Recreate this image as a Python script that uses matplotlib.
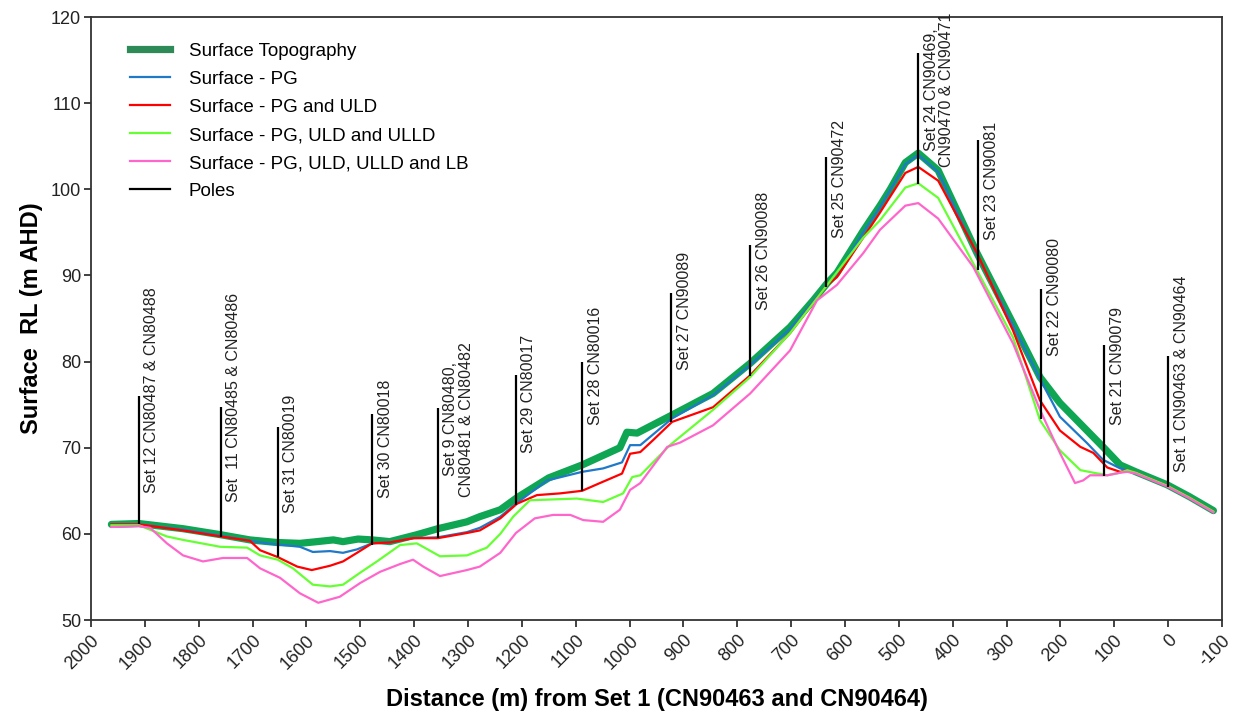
import matplotlib.pyplot as plt
from matplotlib.lines import Line2D

plt.rcParams['font.family'] = ['Liberation Sans', 'DejaVu Sans']

# distance (m) from Set 1 and surface RL (m AHD) for each surface
topo_d = [1962, 1911, 1829, 1759, 1705, 1655, 1612, 1580, 1550, 1532, 1504, 1478, 1445, 1395, 1356,
          1302, 1278, 1240, 1209, 1150, 1088, 1018, 1005, 986, 921, 845, 776, 702, 659, 633, 615,
          566, 535, 516, 488, 464, 427, 355, 288, 238, 201, 121, 89, 60, 2, -40, -84]
topo_rl = [61.1, 61.2, 60.6, 59.9, 59.3, 59.0, 58.9, 59.1, 59.3, 59.1, 59.4, 59.3, 59.1, 59.9, 60.6,
           61.4, 62.0, 62.8, 64.2, 66.5, 68.0, 70.0, 71.8, 71.7, 73.8, 76.3, 79.8, 84.0, 87.1, 89.1, 90.3,
           95.2, 98.1, 100.0, 103.1, 104.2, 102.2, 92.6, 84.4, 78.2, 75.2, 70.1, 68.0, 67.2, 65.7, 64.3, 62.7]

pg_d = [1962, 1911, 1829, 1759, 1705, 1673, 1612, 1588, 1556, 1532, 1506, 1478, 1445, 1402, 1356,
        1302, 1278, 1240, 1209, 1153, 1088, 1049, 1014, 999, 980, 921, 845, 776, 702, 633, 615,
        566, 535, 488, 464, 427, 355, 288, 238, 201, 150, 121, 89, 60, 2, -40, -84]
pg_rl = [61.1, 61.1, 60.5, 59.8, 59.2, 58.9, 58.5, 57.9, 58.0, 57.8, 58.2, 58.9, 59.0, 59.5, 59.6,
         60.2, 60.7, 62.0, 63.6, 66.2, 67.2, 67.6, 68.3, 70.3, 70.3, 73.4, 76.1, 79.6, 83.8, 88.9, 90.1,
         95.0, 97.9, 102.9, 104.0, 102.0, 92.4, 84.2, 78.0, 73.6, 70.5, 68.6, 67.6, 67.1, 65.6, 64.2, 62.6]

uld_d = [1962, 1911, 1829, 1759, 1705, 1686, 1653, 1617, 1590, 1556, 1532, 1506, 1478, 1445, 1402,
         1356, 1302, 1278, 1240, 1209, 1172, 1129, 1088, 1055, 1014, 999, 980, 956, 921, 845, 776,
         702, 633, 615, 566, 535, 488, 464, 427, 355, 288, 238, 201, 163, 139, 113, 89, 76, 60, 2, -40, -84]
uld_rl = [61.1, 61.1, 60.4, 59.7, 59.2, 58.1, 57.3, 56.2, 55.8, 56.3, 56.8, 57.8, 58.9, 59.0, 59.5,
          59.5, 60.1, 60.4, 61.8, 63.5, 64.5, 64.7, 65.0, 65.9, 67.0, 69.3, 69.5, 70.9, 73.0, 74.7, 78.4,
          83.3, 88.9, 89.8, 94.4, 97.3, 101.9, 102.6, 101.0, 92.6, 83.6, 75.5, 72.0, 70.1, 69.4, 67.7, 67.2,
          67.4, 67.1, 65.6, 64.2, 62.6]

ulld_d = [1962, 1911, 1859, 1829, 1760, 1710, 1686, 1653, 1625, 1588, 1556, 1532, 1500, 1469, 1426,
          1395, 1352, 1302, 1265, 1240, 1216, 1185, 1098, 1049, 1012, 995, 980, 925, 845, 776, 702,
          633, 566, 535, 488, 464, 427, 355, 288, 238, 201, 163, 139, 113, 89, 76, 60, 2, -40, -84]
ulld_rl = [61.0, 61.0, 59.7, 59.3, 58.5, 58.4, 57.5, 57.0, 56.0, 54.1, 53.9, 54.1, 55.5, 56.8, 58.7,
           58.9, 57.4, 57.5, 58.4, 60.0, 62.0, 63.9, 64.1, 63.7, 64.7, 66.6, 66.8, 70.3, 74.4, 78.2, 83.3,
           88.9, 94.4, 96.4, 100.2, 100.7, 99.0, 90.6, 82.8, 73.2, 69.7, 67.4, 67.1, 66.8, 67.1, 67.4, 67.1,
           65.6, 64.2, 62.6]

lb_d = [1962, 1911, 1890, 1859, 1829, 1792, 1755, 1710, 1686, 1649, 1612, 1578, 1538, 1500, 1463,
        1426, 1402, 1383, 1352, 1302, 1278, 1240, 1211, 1176, 1142, 1110, 1086, 1049, 1018, 999, 980,
        930, 906, 845, 776, 702, 652, 615, 566, 535, 488, 464, 427, 362, 288, 238, 201, 173, 158, 145,
        113, 89, 76, 60, 2, -40, -84]
lb_rl = [60.8, 60.9, 60.7, 58.9, 57.5, 56.8, 57.2, 57.2, 56.0, 54.9, 53.1, 52.0, 52.7, 54.3, 55.6,
         56.5, 57.0, 56.2, 55.1, 55.8, 56.2, 57.8, 60.1, 61.8, 62.2, 62.2, 61.6, 61.4, 62.8, 65.1, 65.9,
         70.1, 70.6, 72.6, 76.3, 81.3, 87.1, 88.9, 92.6, 95.3, 98.1, 98.4, 96.6, 91.0, 82.1, 74.4, 69.4,
         65.9, 66.2, 66.8, 66.8, 67.1, 67.2, 67.0, 65.5, 64.1, 62.5]

# poles
pole_d = [1911, 1759, 1653, 1478, 1356, 1211, 1088, 923, 776, 635, 464, 353, 236, 119, 0]
pole_bottom = [61.1, 59.6, 57.3, 58.7, 59.5, 63.3, 65.0, 73.0, 78.3, 88.7, 100.6, 90.6, 73.3, 66.7, 65.4]
pole_top = [76.0, 74.7, 72.4, 73.9, 74.6, 78.4, 80.0, 88.0, 93.5, 103.8, 115.8, 105.7, 88.4, 81.9, 80.6]
pole_names = ['Set 12 CN80487 & CN80488', 'Set  11 CN80485 & CN80486', 'Set 31 CN80019',
              'Set 30 CN80018', 'Set 9 CN80480,\nCN80481 & CN80482', 'Set 29 CN80017',
              'Set 28 CN80016', 'Set 27 CN90089', 'Set 26 CN90088', 'Set 25 CN90472',
              'Set 24 CN90469,\nCN90470 & CN90471', 'Set 23 CN90081', 'Set 22 CN90080',
              'Set 21 CN90079', 'Set 1 CN90463 & CN90464']
label_rl = [64.7, 63.7, 62.4, 64.2, 64.3, 69.4, 72.6, 79.0, 86.0, 94.3, 102.6, 94.1, 80.7, 72.6, 67.2]

xticks = list(range(2000, -101, -100))
xtick_labels = [str(t) for t in xticks]
yticks = [50, 60, 70, 80, 90, 100, 110, 120]

fig = plt.figure(figsize=(12.39, 7.12), dpi=100)
ax = fig.add_axes([0.0734, 0.1292, 0.9129, 0.8469])

ax.plot(topo_d, topo_rl, color='#0ea653', lw=5.2, solid_capstyle='round', label='Surface Topography')
ax.plot(pg_d, pg_rl, color='#1f78c8', lw=1.6, label='Surface - PG')
ax.plot(uld_d, uld_rl, color='#ff0000', lw=1.6, label='Surface - PG and ULD')
ax.plot(ulld_d, ulld_rl, color='#66ff33', lw=1.6, label='Surface - PG, ULD and ULLD')
ax.plot(lb_d, lb_rl, color='#ff66cc', lw=1.6, label='Surface - PG, ULD, ULLD and LB')

ax.vlines(pole_d, pole_bottom, pole_top, color='black', lw=1.6, zorder=5)
for d, name, y in zip(pole_d, pole_names, label_rl):
    ax.annotate(name, xy=(d, y), xytext=(4, 0), textcoords='offset points',
                rotation=90, ha='left', va='bottom', multialignment='center',
                fontsize=11.5, color='#222222', linespacing=1.05)

handles, labels = ax.get_legend_handles_labels()
handles[0] = Line2D([], [], color='#2e8b57', lw=5.2)
handles.append(Line2D([], [], color='black', lw=1.6))
labels.append('Poles')
ax.legend(handles, labels, loc='upper left', bbox_to_anchor=(0.02, 0.985), frameon=False,
          fontsize=13.5, handlelength=2.1, handletextpad=1.0, labelspacing=0.58)

ax.set_xlim(2000, -100)
ax.set_ylim(50, 120)
ax.set_xticks(xticks)
ax.set_xticklabels(xtick_labels, rotation=45, ha='right', va='top', rotation_mode='anchor')
ax.set_yticks(yticks)
ax.tick_params(axis='both', labelsize=13, length=5, width=1.3, color='#333333', labelcolor='#222222')
ax.tick_params(axis='y', pad=2)
for s in ax.spines.values():
    s.set_linewidth(1.3)
    s.set_color('#333333')

ax.set_xlabel('Distance (m) from Set 1 (CN90463 and CN90464)', fontsize=17, fontweight='bold', labelpad=11)
ax.set_ylabel('Surface  RL (m AHD)', fontsize=17, fontweight='bold', labelpad=6)

fig.savefig('out.png', dpi=100)
